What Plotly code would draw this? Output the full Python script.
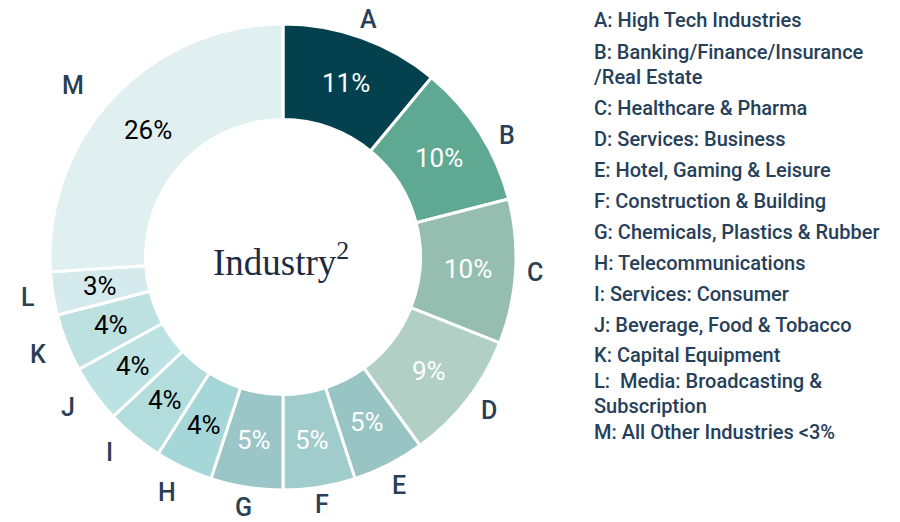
import math
import plotly.graph_objects as go

letters = ["A", "B", "C", "D", "E", "F", "G", "H", "I", "J", "K", "L", "M"]
values = [11, 10, 10, 9, 5, 5, 5, 4, 4, 4, 4, 3, 26]
colors = ["#03414f", "#5fa892", "#95bdb0", "#b2cfc6", "#98c4c4", "#a0cccc", "#9ac6c8",
          "#a5d6d8", "#b3dcdd", "#bde2e3", "#bde0e1", "#d5eaec", "#e0efef"]
pct_colors = ["white"] * 7 + ["black"] * 6
legend_lines = [
    "A: High Tech Industries",
    "B: Banking/Finance/Insurance",
    "/Real Estate",
    "C: Healthcare & Pharma",
    "D: Services: Business",
    "E: Hotel, Gaming & Leisure",
    "F: Construction & Building",
    "G: Chemicals, Plastics & Rubber",
    "H: Telecommunications",
    "I: Services: Consumer",
    "J: Beverage, Food & Tobacco",
    "K: Capital Equipment",
    "L:  Media: Broadcasting &",
    "Subscription",
    "M: All Other Industries <3%",
]
legend_y = [20, 52, 77, 108, 139, 170, 201, 232, 263, 294, 325, 355, 381, 406, 432]
center_title = "Industry<sup>2</sup>"

# styling: outer-label radius (px) and angular nudge (deg) per slice
label_radius = [252, 255, 252, 257, 256, 251, 254, 262, 261, 263, 264, 258, 271]
label_nudge = [0, 4, 0, -1, 0, 0, 0, 1, 2, 1, 0, 0, -4]

W, H = 900, 522
CX, CY, R = 283, 257, 233
HOLE = 0.59

fig = go.Figure()
fig.add_trace(go.Pie(
    labels=letters, values=values, sort=False, direction="clockwise", rotation=0,
    hole=HOLE, textinfo="none", hoverinfo="skip",
    marker=dict(colors=colors, line=dict(color="white", width=3)),
    domain=dict(x=[(CX - R) / W, (CX + R) / W], y=[1 - (CY + R) / H, 1 - (CY - R) / H]),
    showlegend=False,
))

ann = []
total = sum(values)
cum = 0
r_mid = R * (1 + HOLE) / 2
for lt, v, pc, rl, nd in zip(letters, values, pct_colors, label_radius, label_nudge):
    mid = (cum + v / 2) / total * 2 * math.pi
    cum += v
    sx, sy = math.sin(mid), -math.cos(mid)
    ann.append(dict(x=(CX + r_mid * sx) / W, y=1 - (CY + r_mid * sy) / H, xref="paper", yref="paper",
                    text=f"{round(v / total * 100)}%", showarrow=False,
                    xanchor="center", yanchor="middle",
                    font=dict(family="Roboto", size=26, color=pc)))
    la = mid + math.radians(nd)
    ann.append(dict(x=(CX + rl * math.sin(la)) / W, y=1 - (CY - rl * math.cos(la)) / H,
                    xref="paper", yref="paper",
                    text=lt, showarrow=False, xanchor="center", yanchor="middle",
                    font=dict(family="Roboto", size=25, color="#2a3f55", weight=500)))

ann.append(dict(x=(CX - 2) / W, y=1 - (CY + 2) / H, xref="paper", yref="paper", text=center_title,
                showarrow=False, xanchor="center", yanchor="middle",
                font=dict(family="Liberation Serif", size=37, color="#1c2b3f")))

for t, y in zip(legend_lines, legend_y):
    ann.append(dict(x=592 / W, y=1 - y / H, xref="paper", yref="paper", text=t, showarrow=False,
                    xanchor="left", yanchor="middle",
                    font=dict(family="Roboto", size=20, color="#26405a", weight=500)))

fig.update_layout(width=W, height=H, margin=dict(l=0, r=0, t=0, b=0),
                  paper_bgcolor="white", plot_bgcolor="white", annotations=ann)
fig.write_html("out.html", config={"displayModeBar": False},
               post_script="document.body.style.margin='0';document.body.style.overflow='hidden';")
